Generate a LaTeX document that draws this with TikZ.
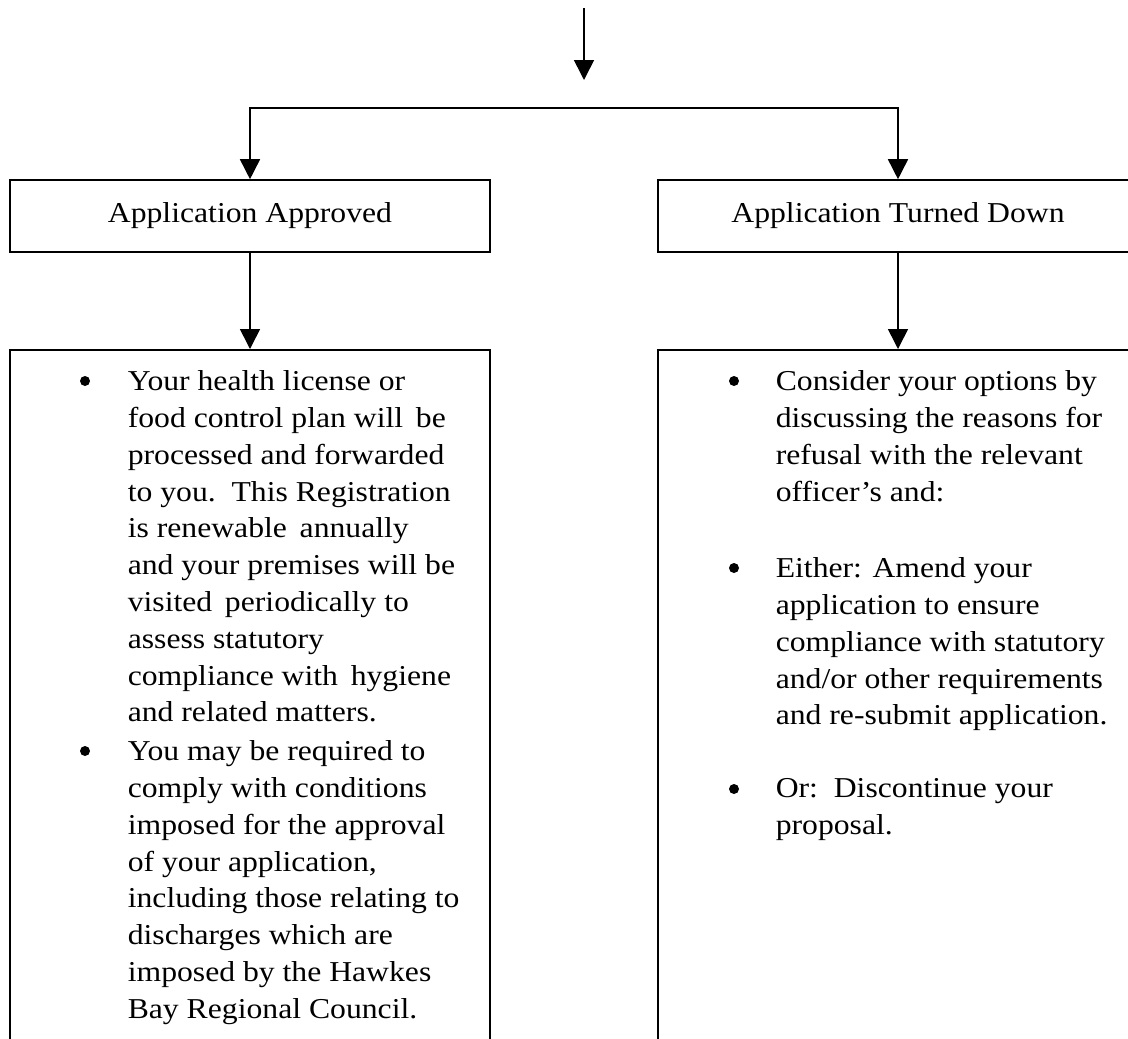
\documentclass[tikz,border=0pt]{standalone}
\usepackage{fontspec}
\setmainfont[FakeStretch=1.1]{Liberation Serif}
\usetikzlibrary{arrows.meta}
\newcommand\bodyfont{\fontsize{28.8pt}{36.8pt}\selectfont}
\begin{document}
\begin{tikzpicture}[x=1pt,y=-1pt,line width=1.6pt,
  arr/.style={-{Triangle[width=20pt,length=20pt]}},
  twoarr/.style={{Triangle[width=20pt,length=20pt]}-{Triangle[width=20pt,length=20pt]}},
  titlebox/.style={draw,minimum width=480pt,minimum height=72pt,inner sep=0pt,font=\bodyfont},
  listbox/.style={draw,minimum width=480pt,minimum height=740pt,anchor=north,inner sep=0pt},
  itemtext/.style={anchor=north west,yshift=20pt,align=left,inner sep=0pt,font=\bodyfont,
    execute at begin node=\strut},
  bulletmark/.style={circle,fill,draw=none,minimum size=10pt,inner sep=0pt,yshift=9pt}]
\clip (0,0) rectangle (1128,1039);

% top incoming arrow
\coordinate (topstart) at (584,8);
\coordinate (topend) at (584,80);
\draw[arr] (topstart) -- (topend);

% decision boxes
\node[titlebox] (approved) at (250,216) {Application Approved};
\node[titlebox] (turned) at (898,216) {Application Turned Down};

% split connector
\coordinate (split) at (584,108);
\draw[twoarr] (approved.north) |- (split) -| (turned.north);

% list boxes
\node[listbox] (approvedlist) at (250,349) {};
\node[listbox] (turnedlist) at (898,349) {};
\draw[arr] (approved.south) -- (approvedlist.north);
\draw[arr] (turned.south) -- (turnedlist.north);

% left list
\node[bulletmark] (lb1) at (85,390) {};
\node[itemtext] (lt1) at (127,390) {Your health license or\\
food control plan will\, be\\
processed and forwarded\\
to you.\ \ This Registration\\
is renewable\, annually\\
and your premises will be\\
visited\, periodically to\\
assess statutory\\
compliance with\, hygiene\\
and related matters.};
\node[bulletmark] (lb2) at (85,760) {};
\node[itemtext] (lt2) at (127,760) {You may be required to\\
comply with conditions\\
imposed for the approval\\
of your application,\\
including those relating to\\
discharges which are\\
imposed by the Hawkes\\
Bay Regional Council.};

% right list
\node[bulletmark] (rb1) at (734,390) {};
\node[itemtext] (rt1) at (775,390) {Consider your options by\\
discussing the reasons for\\
refusal with the relevant\\
officer’s and:};
\node[bulletmark] (rb2) at (734,577) {};
\node[itemtext] (rt2) at (775,577) {Either: Amend your\\
application to ensure\\
compliance with statutory\\
and/or other requirements\\
and re-submit application.};
\node[bulletmark] (rb3) at (734,798) {};
\node[itemtext] (rt3) at (775,798) {Or:\ \ Discontinue your\\
proposal.};
\end{tikzpicture}
\end{document}
